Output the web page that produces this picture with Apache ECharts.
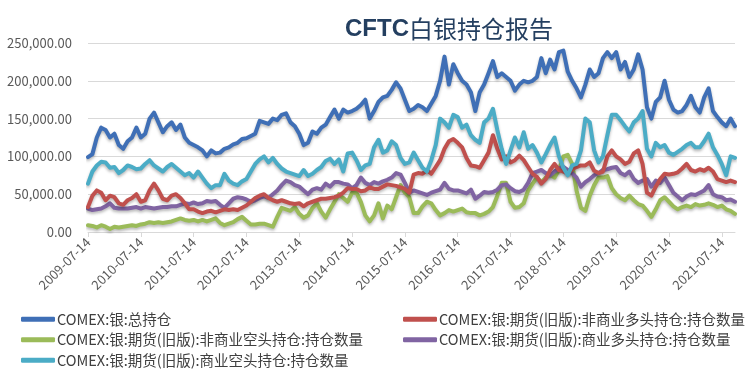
<!DOCTYPE html>
<html><head><meta charset="utf-8">
<script src="https://cdn.jsdelivr.net/npm/echarts@6/dist/echarts.min.js"></script>
<style>html,body{margin:0;padding:0;background:#fff}#c{width:753px;height:376px}</style>
</head><body><div id="c"></div>
<script>
// Monthly categories (14th of each month), 2009-07 .. 2021-10
const categories = [];
for (let y = 2009, m = 7; !(y === 2021 && m === 11); ) {
  categories.push(y + '-' + String(m).padStart(2, '0') + '-14');
  m++; if (m > 12) { m = 1; y++; }
}
const tickLabels = ['2009-07-14','2010-07-14','2011-07-14','2012-07-14','2013-07-14','2014-07-14','2015-07-14','2016-07-14','2017-07-14','2018-07-14','2019-07-14','2020-07-14','2021-07-14'];
const yTicks = [0, 50000, 100000, 150000, 200000, 250000];

const seriesNames = [
  'COMEX:银:总持仓',
  'COMEX:银:期货(旧版):非商业多头持仓:持仓数量',
  'COMEX:银:期货(旧版):非商业空头持仓:持仓数量',
  'COMEX:银:期货(旧版):商业多头持仓:持仓数量',
  'COMEX:银:期货(旧版):商业空头持仓:持仓数量'
];

// values in thousands of contracts
const totalOI_k = [99,103,125,138,135,125,130,115,110,120,125,138,125,130,150,158,145,132,140,145,135,142,125,118,115,112,108,100,108,104,
105,110,112,116,118,123,124,127,130,147,145,143,150,148,155,157,145,140,130,115,118,133,130,138,142,152,162,150,162,158,
160,163,168,175,150,160,172,178,180,188,198,190,175,160,163,168,165,160,170,180,200,232,195,222,210,200,195,185,160,
185,195,210,226,205,210,205,200,187,195,200,198,200,205,230,210,228,215,238,240,212,200,190,178,195,215,205,210,230,238,
230,238,215,225,205,215,235,215,165,150,172,178,200,175,162,158,160,168,180,165,158,178,190,160,152,145,140,150,140];
const nonCommLong_k = [33,48,55,52,42,48,46,38,36,42,45,50,40,42,55,64,55,44,42,48,50,45,38,30,30,27,25,27,28,26,
28,30,29,30,29,32,35,40,45,48,50,45,42,40,42,40,38,37,38,34,38,40,42,44,44,45,46,48,52,58,
57,57,54,55,59,57,57,60,63,62,61,59,57,52,76,78,77,82,77,86,95,110,120,123,118,112,98,88,87,
85,95,105,128,110,96,100,92,95,101,95,86,77,73,64,70,82,90,82,80,77,83,86,88,88,92,81,78,80,100,
108,100,96,90,93,104,108,90,52,48,60,70,77,76,77,79,84,90,82,80,83,81,85,80,70,68,66,68,66];
const nonCommShort_k = [9,8,6,9,7,4,7,6,7,8,9,8,10,11,13,12,13,12,13,14,16,18,16,15,16,14,16,14,16,18,
12,9,11,13,17,20,15,10,10,11,11,9,7,20,32,30,28,33,24,19,22,32,38,27,19,30,40,50,45,40,
52,52,40,22,14,22,38,18,35,30,46,62,52,46,25,25,34,40,38,29,22,25,29,27,29,31,26,25,25,
22,24,27,33,48,65,65,40,32,33,38,55,64,72,66,72,76,72,82,100,102,90,55,32,28,48,62,72,72,74,
58,50,45,42,48,42,37,35,28,20,30,42,46,40,34,30,33,35,33,37,35,36,38,36,33,35,30,28,24];
const commLong_k = [31,29,30,31,34,38,32,31,31,31,32,33,31,33,32,31,32,33,33,34,34,36,38,37,39,37,38,41,40,41,
36,32,38,44,46,45,43,40,42,45,47,45,50,55,62,68,66,62,60,55,50,56,58,56,64,60,66,66,64,63,
58,62,72,65,62,66,64,67,69,72,78,76,65,52,55,53,51,49,52,54,56,65,57,55,55,53,51,56,44,
48,53,52,53,56,62,63,58,54,53,56,65,78,80,82,78,75,80,84,86,82,78,72,60,66,70,75,78,82,83,
85,86,78,75,80,70,65,68,70,60,68,65,72,62,52,47,42,47,50,49,52,55,62,50,47,46,42,43,40];
const commShort_k = [64,80,88,93,92,85,86,78,82,88,86,83,84,90,95,88,84,80,86,90,85,80,75,78,72,80,72,64,58,62,
62,77,68,64,62,67,70,80,90,96,100,92,98,90,84,80,78,76,74,82,74,77,82,86,94,97,90,96,80,104,
105,95,82,88,90,112,122,105,108,120,115,98,90,92,105,95,85,80,95,115,150,145,138,155,152,138,142,128,122,
118,145,150,163,135,110,90,108,125,112,132,110,115,105,92,103,115,125,100,85,75,88,90,108,150,145,108,92,100,128,
155,155,148,140,133,145,150,160,110,100,118,112,115,105,102,106,110,115,118,112,112,120,130,112,102,90,75,100,98];

const colors = ['#3F6FB6', '#C0504D', '#9BBB59', '#8064A2', '#4BACC6'];
const dataK = [totalOI_k, nonCommLong_k, nonCommShort_k, commLong_k, commShort_k];

const chart = echarts.init(document.getElementById('c'), null, {renderer: 'canvas'});
const fontFam = '"Noto Sans CJK SC", "Noto Sans", sans-serif';

const series = seriesNames.map((name, i) => ({
  name: name,
  type: 'line',
  data: dataK[i].map(v => v * 1000),
  symbol: 'none',
  smooth: false,
  z: [5, 4, 2, 3, 4][i],
  lineStyle: { width: 4, color: colors[i], shadowColor: 'rgba(0,0,0,0.28)', shadowBlur: 3, shadowOffsetY: 2, join: 'round', cap: 'round' },
  itemStyle: { color: colors[i] }
}));

const legendCommon = {
  orient: 'vertical',
  itemWidth: 34, itemHeight: 5, itemGap: 6,
  icon: 'roundRect',
  textStyle: { fontSize: 14.5, color: '#404040', fontFamily: fontFam, padding: [0, 0, 0, -3] }
};

chart.setOption({
  animation: false,
  backgroundColor: '#fff',
  color: colors,
  title: {
    text: '{a|CFTC}{b|白银持仓报告}',
    left: 340, top: 12,
    textStyle: {
      rich: {
        a: { fontSize: 24, fontWeight: 'bold', color: '#243F60', fontFamily: '"Liberation Sans Narrow", "Liberation Sans", sans-serif' },
        b: { fontSize: 24, fontWeight: 'normal', color: '#243F60', fontFamily: fontFam }
      }
    }
  },
  grid: { left: 88, right: 18, top: 43, bottom: 144 },
  legend: [
    Object.assign({}, legendCommon, { left: 16, top: 307, data: [seriesNames[0], seriesNames[2], seriesNames[4]] }),
    Object.assign({}, legendCommon, { left: 398, top: 307, data: [seriesNames[1], seriesNames[3]] })
  ],
  xAxis: {
    type: 'category',
    data: categories,
    boundaryGap: false,
    axisLine: { lineStyle: { color: '#D9D9D9', width: 1 } },
    axisTick: { show: true, interval: 11, length: 5, lineStyle: { color: '#D9D9D9' } },
    axisLabel: {
      interval: 11, rotate: 45, fontSize: 13, color: '#595959', fontFamily: fontFam, margin: 8,
      formatter: v => (tickLabels.indexOf(v) >= 0 ? v : '')
    },
    splitLine: { show: false }
  },
  yAxis: {
    type: 'value',
    min: yTicks[0], max: yTicks[yTicks.length - 1], interval: 50000,
    axisLine: { show: false },
    axisTick: { show: false },
    axisLabel: {
      fontSize: 13, color: '#595959', fontFamily: fontFam, margin: 16,
      formatter: v => v.toLocaleString('en-US', { minimumFractionDigits: 2, maximumFractionDigits: 2 })
    },
    splitLine: { lineStyle: { color: '#D9D9D9', width: 1 } }
  },
  series: series
});
</script></body></html>
